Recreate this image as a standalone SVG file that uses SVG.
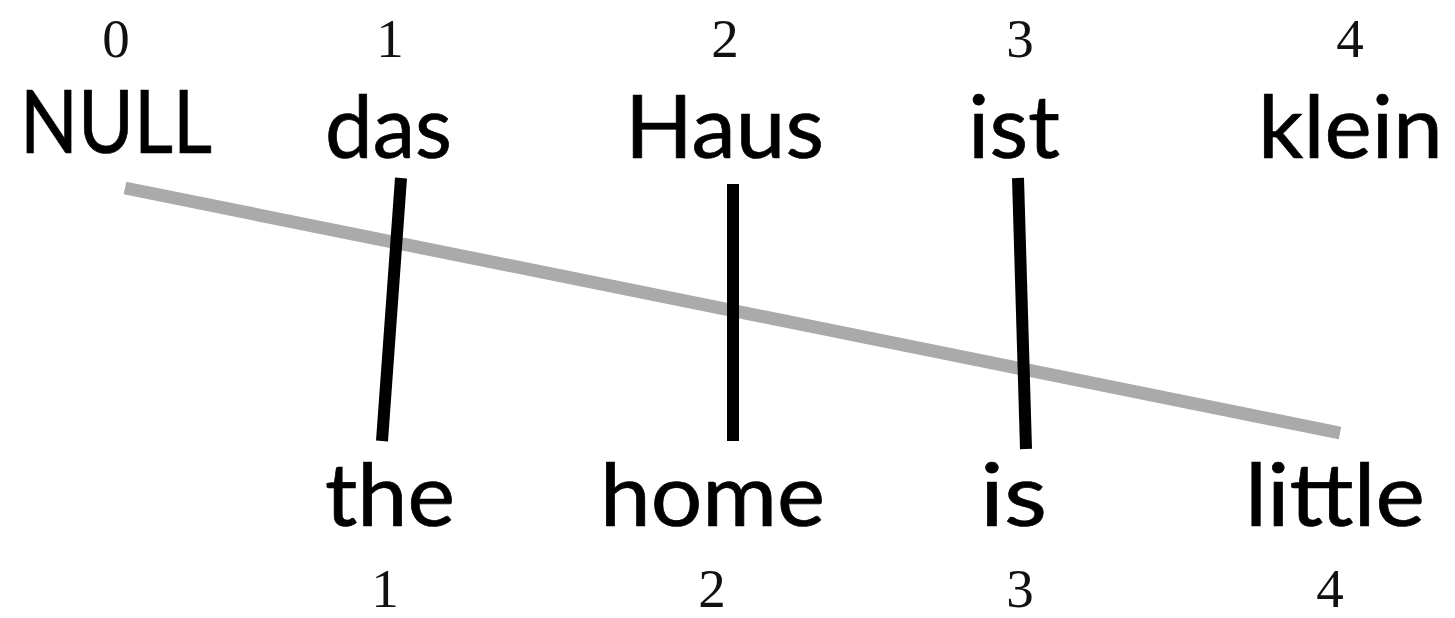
<svg xmlns="http://www.w3.org/2000/svg" width="1455" height="618" viewBox="0 0 1455 618">
<style>
.num{font-family:"Liberation Serif",serif;font-size:55px;fill:#111;text-anchor:middle}
.word{font-family:Lato,"Liberation Sans",sans-serif;font-size:88px;fill:#000;stroke:#000;stroke-width:0.7}
.align{stroke:#000;stroke-width:12;fill:none}
.null{stroke:#aaaaaa;stroke-width:13;fill:none}
</style>
<rect width="1455" height="618" fill="#fff"/>
<g id="connectors">
<line class="null" x1="125" y1="188" x2="1340" y2="433"/>
<line class="align" x1="401" y1="178" x2="382" y2="441"/>
<line class="align" x1="733" y1="184" x2="733" y2="441"/>
<line class="align" x1="1018" y1="178" x2="1026" y2="449"/>
</g>
<g id="src0"><text class="num" x="116" y="57">0</text><text class="word" x="20" y="153" font-size="76" textLength="192" lengthAdjust="spacingAndGlyphs">NULL</text></g>
<g id="src1"><text class="num" x="390" y="57">1</text><text class="word" x="325" y="158" textLength="127" lengthAdjust="spacingAndGlyphs">das</text></g>
<g id="src2"><text class="num" x="725" y="57">2</text><text class="word" x="625" y="158" textLength="199" lengthAdjust="spacingAndGlyphs">Haus</text></g>
<g id="src3"><text class="num" x="1020" y="57">3</text><text class="word" x="968" y="158" textLength="92" lengthAdjust="spacingAndGlyphs">ist</text></g>
<g id="src4"><text class="num" x="1350" y="57">4</text><text class="word" x="1258" y="158" textLength="185" lengthAdjust="spacingAndGlyphs">klein</text></g>
<g id="tgt1"><text class="word" x="325" y="526" textLength="130" lengthAdjust="spacingAndGlyphs">the</text><text class="num" x="385" y="607">1</text></g>
<g id="tgt2"><text class="word" x="600" y="526" textLength="225" lengthAdjust="spacingAndGlyphs">home</text><text class="num" x="712" y="607">2</text></g>
<g id="tgt3"><text class="word" x="980" y="526" textLength="67" lengthAdjust="spacingAndGlyphs">is</text><text class="num" x="1020" y="607">3</text></g>
<g id="tgt4"><text class="word" x="1245" y="526" textLength="180" lengthAdjust="spacingAndGlyphs">little</text><text class="num" x="1330" y="607">4</text></g>
</svg>
